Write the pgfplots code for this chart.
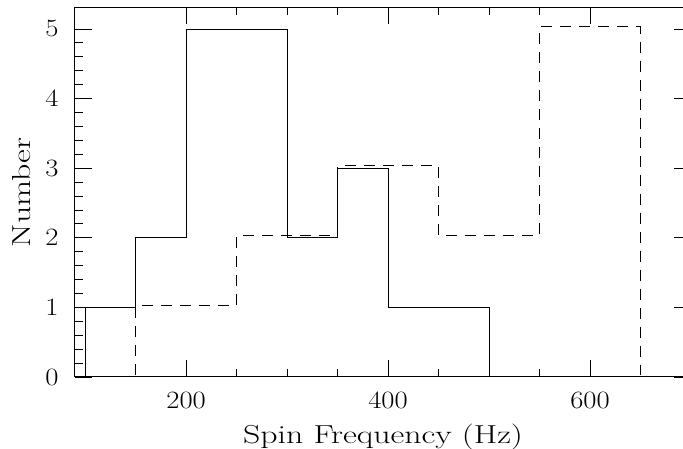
\documentclass[border=0pt]{standalone}
\usepackage{fontspec}
\usepackage{pgfplots}
\pgfplotsset{compat=1.18}
\usepackage{graphicx}
% PGPLOT lettering is wider than Latin Modern
\newcommand\wide[1]{\scalebox{1.15}[1]{#1}}
\newcommand\widelab[1]{\scalebox{1.3}[1]{#1}}

\begin{document}
\begin{tikzpicture}
\begin{axis}[
  at={(0,0)}, anchor=south west,
  scale only axis, width=616pt, height=369.6pt,
  xmin=90, xmax=700, ymin=0, ymax=5.31,
  xtick={200,400,600}, ytick={0,1,2,3,4,5},
  minor x tick num=3, minor y tick num=4,
  tick align=inside,
  major tick length=17pt, minor tick length=8pt,
  tick style={black, line width=0.8pt},
  axis line style={line width=1pt},
  font=\fontsize{26}{30}\selectfont,
  xticklabel={\wide{\pgfmathprintnumber{\tick}}},
  yticklabel={\wide{\pgfmathprintnumber{\tick}}},
  xticklabel style={anchor=center, yshift=-23pt},
  yticklabel style={anchor=center, xshift=-23pt},
  xlabel={\widelab{Spin Frequency (Hz)}},
  ylabel={\widelab{Number}},
  xlabel style={at={(axis description cs:0.5,0)}, anchor=center, yshift=-60pt},
  ylabel style={at={(axis description cs:0,0.5)}, anchor=center, rotate=0, yshift=53pt},
]
% solid histogram
\addplot[const plot, black, line width=0.8pt] coordinates {
  (100,0) (100,1) (150,2) (200,5) (300,2) (350,3) (400,1) (500,0)
};
% dashed histogram, drawn a little higher so both show
\addplot[const plot, black, line width=0.8pt, dash pattern=on 11pt off 8pt, yshift=2.3pt] coordinates {
  (150,0) (150,1) (250,2) (350,3) (450,2) (550,5) (650,0)
};
\end{axis}
\pgfresetboundingbox
\useasboundingbox (-75pt,-72pt) rectangle (608pt,377pt);
\end{tikzpicture}
\end{document}
